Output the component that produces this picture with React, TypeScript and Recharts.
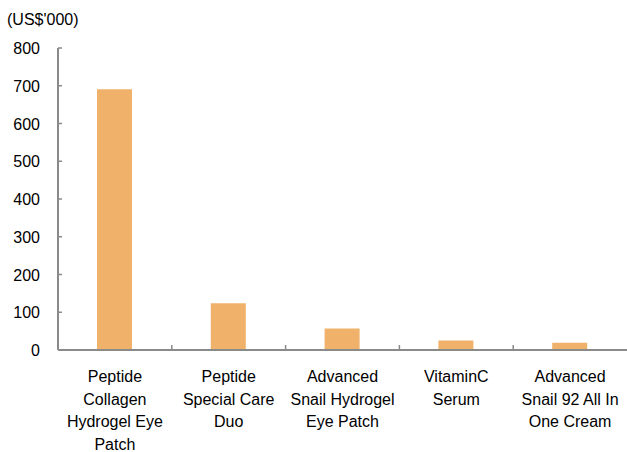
import React from "react";
import { BarChart, Bar, XAxis, YAxis } from "recharts";

const categories = [
  "Peptide\nCollagen\nHydrogel Eye\nPatch",
  "Peptide\nSpecial Care\nDuo",
  "Advanced\nSnail Hydrogel\nEye Patch",
  "VitaminC\nSerum",
  "Advanced\nSnail 92 All In\nOne Cream",
];
const salesValues = [691, 124, 57, 25, 19];
const yTicks = [0, 100, 200, 300, 400, 500, 600, 700, 800];
const unitLabel = "(US$'000)";

const data = categories.map((name, i) => ({ name, value: salesValues[i] }));

const W = 627;
const H = 452;
const LEFT = 58;
const TOP = 48;
const BOTTOM = 102;
const AXIS = "#8a8a8a";
const FONT = "'Liberation Sans', Arial, sans-serif";
const band = (W - LEFT) / categories.length;

const YTick = (props: any) => {
  const { x, y, payload } = props;
  return (
    <g>
      <line x1={LEFT} x2={LEFT + 4} y1={y} y2={y} stroke={AXIS} strokeWidth={1.5} />
      <text x={40} y={y} dy={6} textAnchor="end" fontFamily={FONT} fontSize={16} fill="#000">
        {payload.value}
      </text>
    </g>
  );
};

const XTick = (props: any) => {
  const { x, y, payload, index } = props;
  const lines = String(payload.value).split("\n");
  const axisY = H - BOTTOM;
  return (
    <g>
      {index > 0 && (
        <line x1={x - band / 2} x2={x - band / 2} y1={axisY} y2={axisY - 5} stroke={AXIS} strokeWidth={1.5} />
      )}
      <text textAnchor="middle" fontFamily={FONT} fontSize={16} fill="#000">
        {lines.map((l, i) => (
          <tspan key={i} x={x} y={axisY + 32 + i * 22.5}>
            {l}
          </tspan>
        ))}
      </text>
    </g>
  );
};

export default function App() {
  return (
    <div style={{ position: "absolute", left: 0, top: 0, width: W, height: H, background: "#fff" }}>
      <div
        style={{
          position: "absolute",
          left: 7,
          top: 9,
          fontFamily: FONT,
          fontSize: 16,
          color: "#000",
          lineHeight: "22px",
        }}
      >
        {unitLabel}
      </div>
      <BarChart width={W} height={H} data={data} margin={{ top: TOP, right: 0, bottom: 0, left: 0 }}>
        <YAxis
          width={LEFT}
          domain={[0, 800]}
          ticks={yTicks}
          interval={0}
          axisLine={{ stroke: AXIS, strokeWidth: 2 }}
          tickLine={false}
          tick={<YTick />}
        />
        <XAxis
          dataKey="name"
          height={BOTTOM}
          interval={0}
          axisLine={{ stroke: AXIS, strokeWidth: 2 }}
          tickLine={false}
          tick={<XTick />}
        />
        <Bar dataKey="value" fill="#F0B26B" barSize={35} isAnimationActive={false} />
      </BarChart>
    </div>
  );
}
